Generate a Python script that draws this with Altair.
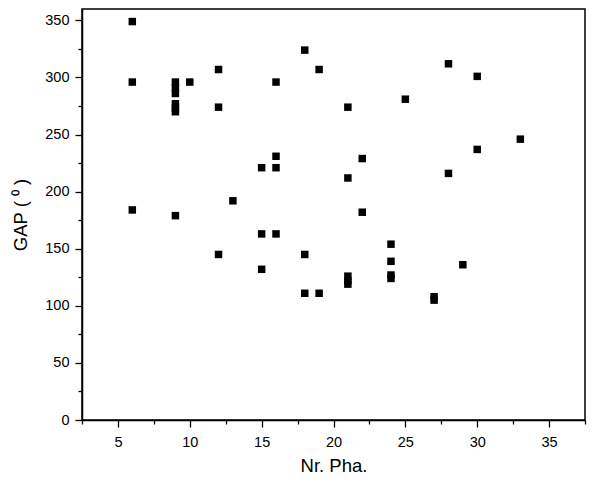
import altair as alt
import pandas as pd

# Nr. Pha. (x) and GAP (y) values
nr_pha = [6, 6, 6,
          9, 9, 9, 9, 9, 9, 9,
          10,
          12, 12, 12,
          13,
          15, 15, 15,
          16, 16, 16, 16,
          18, 18, 18,
          19, 19,
          21, 21, 21, 21, 21,
          22, 22,
          24, 24, 24, 24,
          25,
          27, 27,
          28, 28,
          29,
          30, 30,
          33]
gap = [349, 296, 184,
       296, 291, 286, 277, 273, 270, 179,
       296,
       307, 274, 145,
       192,
       221, 163, 132,
       296, 231, 221, 163,
       324, 145, 111,
       307, 111,
       274, 212, 126, 122, 119,
       229, 182,
       154, 139, 127, 124,
       281,
       108, 105,
       312, 216,
       136,
       301, 237,
       246]

x_ticks = [2.5, 5, 7.5, 10, 12.5, 15, 17.5, 20, 22.5, 25, 27.5, 30, 32.5, 35, 37.5]
y_ticks = [0, 25, 50, 75, 100, 125, 150, 175, 200, 225, 250, 275, 300, 325, 350]

df = pd.DataFrame({"nr": nr_pha, "gap": gap})

FONT = "Liberation Sans"

x_axis = alt.Axis(
    title="Nr. Pha.",
    values=x_ticks,
    grid=False,
    tickSize=7,
    tickWidth=1.3,
    tickColor="black",
    tickDash={"condition": {"test": "datum.value % 5 === 0", "value": [10, 0]}, "value": [4, 10]},
    labelExpr="datum.value % 5 === 0 ? datum.label : ''",
    labelOverlap=False,
    labelFlush=False,
    labelPadding=8,
    labelFont=FONT,
    labelFontSize=14.5,
    labelColor="black",
    domainColor="black",
    domainWidth=1.5,
    titleFont=FONT,
    titleFontSize=18.5,
    titleFontWeight="normal",
    titleColor="black",
    titlePadding=8,
)

y_axis = alt.Axis(
    title="GAP ( ⁰ )",
    values=y_ticks,
    grid=False,
    tickSize=7,
    tickWidth=1.3,
    tickColor="black",
    tickDash={"condition": {"test": "datum.value % 50 === 0", "value": [10, 0]}, "value": [4, 10]},
    labelExpr="datum.value % 50 === 0 ? datum.label : ''",
    labelOverlap=False,
    labelFlush=False,
    labelPadding=6,
    labelFont=FONT,
    labelFontSize=14.5,
    labelColor="black",
    domainColor="black",
    domainWidth=1.5,
    titleFont=FONT,
    titleFontSize=18.5,
    titleFontWeight="normal",
    titleColor="black",
    titlePadding=14,
)

chart = alt.Chart(df).mark_point(
    shape="square", filled=True, size=56, color="black", opacity=1
).encode(
    x=alt.X("nr:Q", scale=alt.Scale(domain=[2.5, 37.5], nice=False, zero=False), axis=x_axis),
    y=alt.Y("gap:Q", scale=alt.Scale(domain=[0, 360], nice=False), axis=y_axis),
).properties(
    width=503,
    height=411,
    autosize=alt.AutoSizeParams(type="none"),
    padding={"left": 74, "top": 1, "right": 2, "bottom": 57},
).configure(
    background="white"
).configure_view(
    stroke="black", strokeWidth=1.5
)

chart.save("out.html", embed_options={"renderer": "svg", "actions": False})
